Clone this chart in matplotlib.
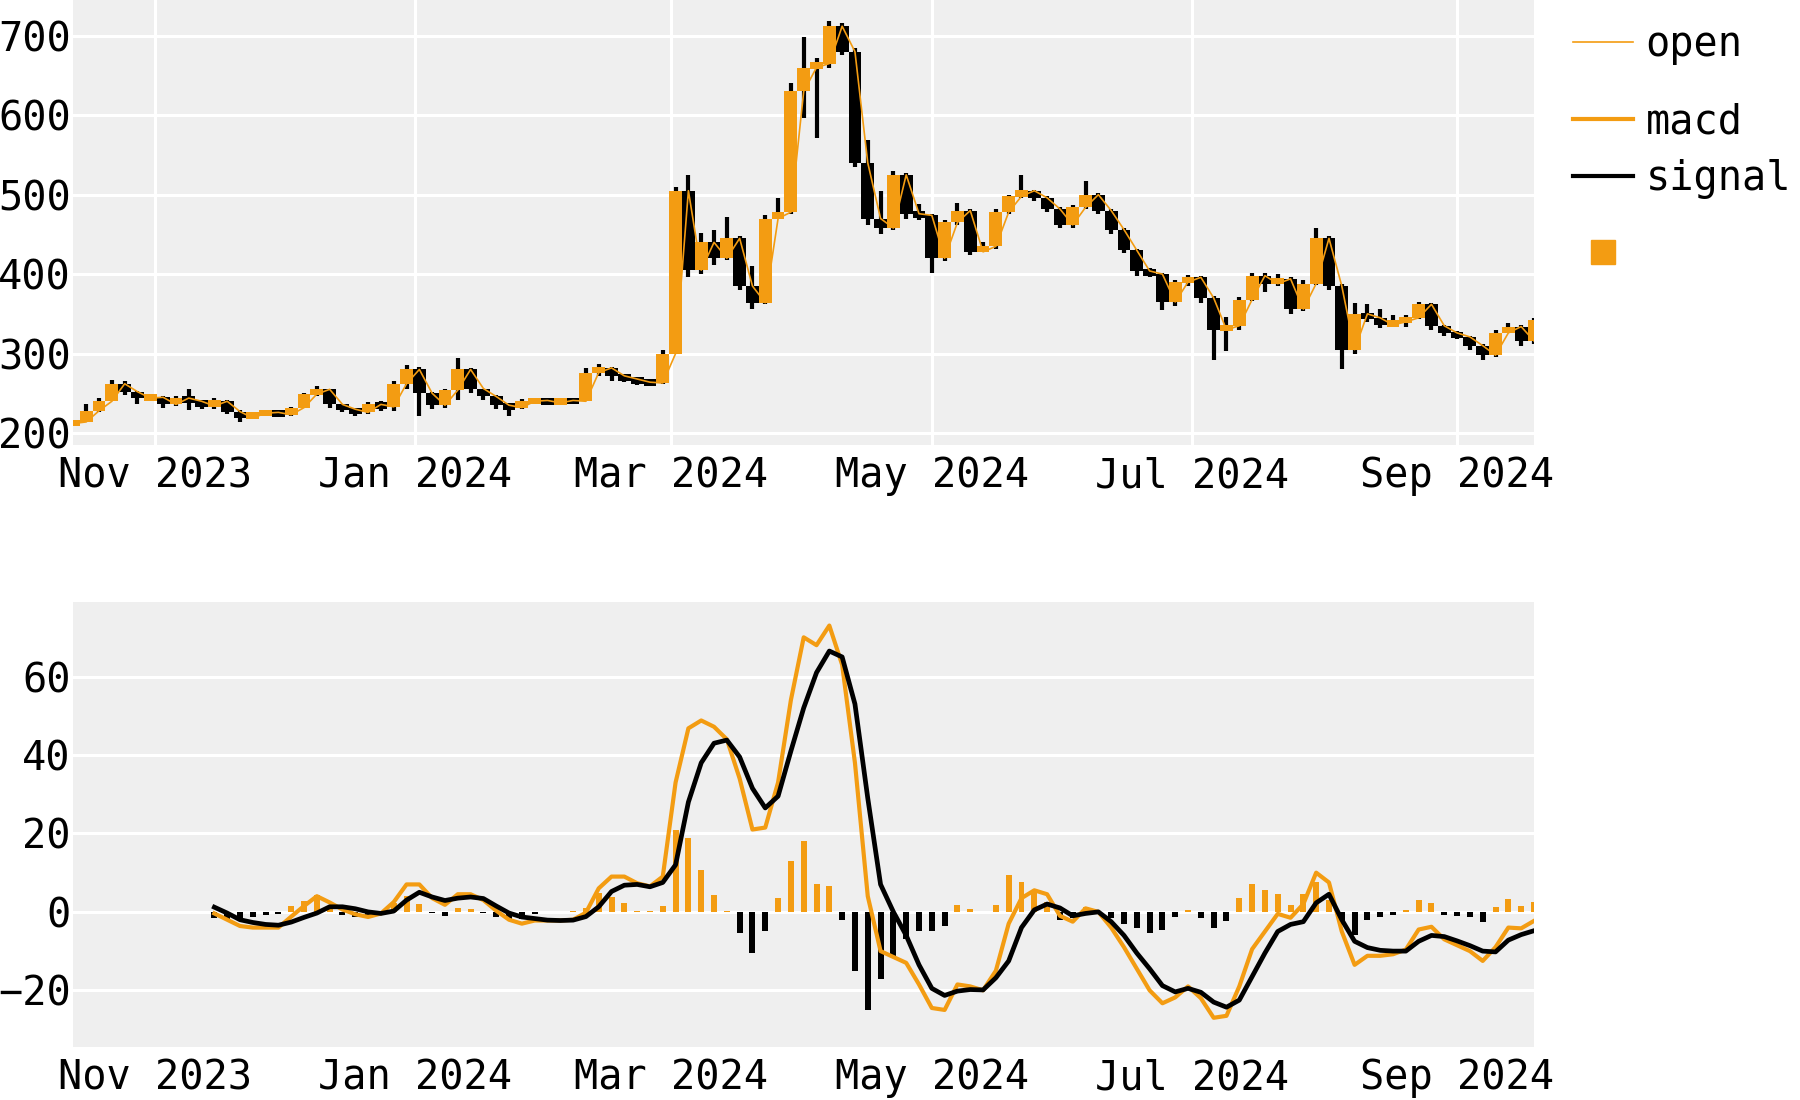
import matplotlib
matplotlib.use('Agg')
import matplotlib.pyplot as plt
import matplotlib.dates as mdates
from matplotlib.lines import Line2D
import numpy as np
import pandas as pd

plt.rcParams['font.family'] = ['DejaVu Sans Mono', 'DejaVu Sans']

ORANGE = '#f39c12'
BG = '#efefef'

# price candles, one every 3 days starting 2023-10-13
first_open = 212
closes = [214, 228, 240, 262, 252, 244, 245, 236, 244, 240,
          234, 240, 227, 219, 225, 226, 223, 232, 249, 255,
          236, 230, 226, 236, 233, 262, 280, 250, 235, 254,
          280, 256, 246, 235, 232, 240, 241, 238, 241, 240,
          276, 282, 272, 268, 264, 263, 300, 505, 405, 440,
          420, 445, 385, 364, 470, 478, 630, 660, 665, 712,
          680, 540, 470, 458, 525, 476, 474, 420, 465, 480,
          428, 435, 478, 498, 505, 496, 482, 462, 484, 500,
          480, 456, 430, 404, 400, 365, 390, 396, 370, 330,
          335, 368, 398, 388, 394, 356, 388, 445, 385, 305,
          350, 345, 336, 340, 345, 362, 335, 326, 321, 310,
          298, 326, 334, 316, 342]
highs = [216, 237, 244, 267, 265, 253, 248, 246, 247, 256,
         242, 244, 242, 229, 227, 228, 227, 233, 251, 259,
         256, 237, 232, 239, 240, 266, 285, 283, 252, 256,
         294, 282, 256, 248, 237, 243, 244, 243, 243, 242,
         282, 287, 283, 274, 270, 268, 305, 510, 525, 452,
         456, 472, 448, 410, 474, 496, 640, 699, 672, 718,
         716, 685, 569, 505, 530, 527, 488, 476, 468, 489,
         482, 440, 482, 500, 525, 506, 498, 485, 487, 517,
         502, 482, 458, 432, 408, 402, 393, 399, 398, 372,
         346, 371, 402, 402, 400, 396, 392, 458, 448, 387,
         364, 362, 356, 348, 349, 365, 364, 336, 328, 322,
         312, 330, 338, 336, 345]
lows = [210, 214, 226, 240, 248, 236, 240, 232, 234, 229,
        230, 230, 224, 214, 218, 222, 220, 221, 231, 247,
        232, 226, 222, 224, 228, 228, 255, 222, 230, 232,
        242, 250, 242, 230, 221, 230, 236, 235, 236, 236,
        240, 272, 266, 264, 260, 259, 262, 300, 396, 400,
        412, 418, 380, 356, 362, 470, 476, 596, 571, 660,
        676, 535, 462, 450, 455, 470, 468, 401, 416, 462,
        424, 428, 432, 476, 496, 492, 478, 458, 458, 482,
        476, 450, 426, 398, 396, 355, 360, 385, 364, 292,
        303, 330, 366, 378, 385, 350, 354, 386, 380, 281,
        300, 340, 332, 333, 333, 344, 330, 322, 318, 304,
        292, 296, 326, 310, 312]

# macd / signal, one every 3 days starting 2023-11-15
macd = [-0.4, -2.0, -3.6, -4.0, -4.0, -4.0, -1.2, 1.5, 4.0, 2.4,
        0.6, -0.6, -1.3, -0.4, 2.5, 7.0, 7.0, 3.5, 1.8, 4.5,
        4.5, 3.0, 0.3, -2.0, -3.0, -2.2, -2.2, -2.2, -2.0, -0.2,
        6.0, 9.0, 9.0, 7.3, 6.5, 9.0, 33.0, 46.8, 48.8, 47.2,
        44.0, 34.0, 21.0, 21.5, 33.0, 54.0, 70.0, 68.0, 73.0, 63.0,
        38.0, 4.0, -10.0, -11.5, -13.0, -18.5, -24.5, -25.0, -18.5, -19.0,
        -20.0, -15.0, -3.0, 3.5, 5.5, 4.5, -1.0, -2.5, 0.9, 0.0,
        -4.0, -9.0, -14.5, -20.0, -23.3, -21.8, -19.0, -22.0, -27.0, -26.5,
        -19.0, -9.5, -5.0, -0.5, -1.5, 2.0, 10.0, 7.5, -5.0, -13.5,
        -11.2, -11.2, -10.8, -9.6, -4.5, -3.8, -7.0, -8.5, -10.0, -12.5,
        -9.0, -4.0, -4.2, -2.3]
signal = [1.2, -0.3, -2.0, -2.7, -3.2, -3.4, -2.6, -1.4, -0.3, 1.3,
          1.3, 0.8, 0.0, -0.4, 0.2, 3.0, 5.0, 3.8, 2.9, 3.5,
          3.8, 3.4, 1.5, -0.3, -1.3, -1.7, -2.1, -2.2, -2.1, -1.2,
          1.3, 5.2, 6.8, 7.0, 6.4, 7.5, 12.0, 28.0, 38.0, 43.0,
          43.8, 39.5, 31.5, 26.5, 29.5, 41.0, 52.0, 61.0, 66.5, 65.0,
          53.0, 29.0, 7.0, 0.0, -6.0, -13.5, -19.5, -21.3, -20.2, -19.8,
          -19.9, -16.8, -12.5, -4.0, 0.5, 2.0, 1.0, -1.0, -0.4, 0.0,
          -2.5, -6.0, -10.5, -14.5, -18.8, -20.4, -19.5, -20.5, -23.0, -24.3,
          -22.5, -16.5, -10.5, -5.0, -3.2, -2.5, 2.3, 4.5, -2.0, -7.5,
          -9.1, -9.8, -10.0, -10.0, -7.5, -6.0, -6.3, -7.4, -8.6, -10.0,
          -10.2, -7.2, -5.8, -4.8]

price_dates = pd.date_range('2023-10-13', periods=len(closes), freq='3D')
macd_dates = pd.date_range('2023-11-15', periods=len(macd), freq='3D')

opens = np.array([first_open] + closes[:-1], dtype=float)
closes_a = np.array(closes, dtype=float)
body_mid = (opens + closes_a) / 2
body_height = np.maximum(np.abs(closes_a - opens), 8)
body_bottom = body_mid - body_height / 2
body_colors = [ORANGE if c >= o else 'black' for o, c in zip(opens, closes_a)]

hist = np.array(macd) - np.array(signal)
hist_colors = [ORANGE if h >= 0 else 'black' for h in hist]

fig = plt.figure(figsize=(18, 11), dpi=100)
ax1 = fig.add_axes([0.0408, 0.5955, 0.8114, 0.4045])
ax2 = fig.add_axes([0.0408, 0.048, 0.8114, 0.4047], sharex=ax1)

# top: candles
ax1.vlines(price_dates, lows, highs, color='black', lw=3, zorder=2)
ax1.bar(price_dates, body_height, bottom=body_bottom, width=3.0,
        color=body_colors, zorder=3)
ax1.plot(price_dates, opens, color=ORANGE, lw=1.2, zorder=4)
ax1.set_ylim(185, 745)
ax1.set_yticks([200, 300, 400, 500, 600, 700])
ax1.set_xlim(price_dates[0], price_dates[-1])

# bottom: macd
ax2.bar(macd_dates, hist, width=1.4, color=hist_colors, zorder=2)
ax2.plot(macd_dates, macd, color=ORANGE, lw=3, zorder=3)
ax2.plot(macd_dates, signal, color='black', lw=3.4, zorder=4)
ax2.set_ylim(-34.5, 79)
ax2.set_yticks([-20, 0, 20, 40, 60])

for ax in (ax1, ax2):
    ax.set_facecolor(BG)
    for s in ax.spines.values():
        s.set_visible(False)
    ax.set_axisbelow(True)
    ax.tick_params(length=0, labelsize=29)
    ax.tick_params(axis='x', pad=8)
    ax.tick_params(axis='y', pad=2)
    ax.xaxis.set_major_locator(mdates.MonthLocator(bymonth=(1, 3, 5, 7, 9, 11)))
    ax.xaxis.set_major_formatter(mdates.DateFormatter('%b %Y'))
ax1.grid(True, color='white', lw=2.2)
ax2.grid(True, axis='y', color='white', lw=2.2)
ax2.xaxis.set_tick_params(labelbottom=True)

entries = [
    (Line2D([], [], color=ORANGE, lw=1.2), 'open', 45),
    (Line2D([], [], color=ORANGE, lw=3), 'macd', 122),
    (Line2D([], [], color='black', lw=3), 'signal', 179),
    (Line2D([], [], color=ORANGE, marker='s', ls='', markersize=17), '', 255),
]
for handle, label, ypx in entries:
    fig.legend([handle], [label], loc='center left',
               bbox_to_anchor=(1573 / 1800, 1 - ypx / 1100),
               frameon=False, fontsize=29, handlelength=1.5,
               handletextpad=0.3, borderpad=0, borderaxespad=0)

fig.savefig('out.png', dpi=100)
